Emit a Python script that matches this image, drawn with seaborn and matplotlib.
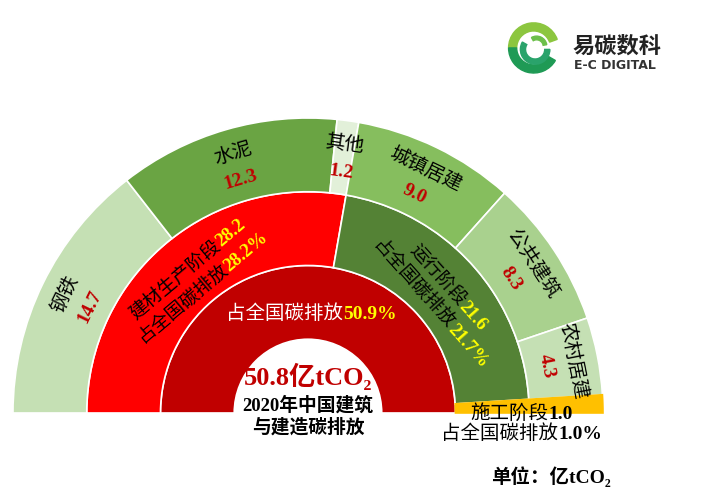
import numpy as np
import matplotlib
matplotlib.use("Agg")
import matplotlib.pyplot as plt
import seaborn as sns
from matplotlib.patches import Wedge

sns.set_theme(style="white")
plt.rcParams["font.family"] = ["Liberation Serif", "Noto Sans CJK SC", "DejaVu Sans"]

# 数据（亿tCO2）
total = 50.8
total_share = 50.9
stage_names = ["建材生产阶段", "运行阶段", "施工阶段"]
stage_values = [28.2, 21.6, 1.0]
stage_shares = [28.2, 21.7, 1.0]
sub_names = ["钢铁", "水泥", "其他", "城镇居建", "公共建筑", "农村居建"]
sub_values = [14.7, 12.3, 1.2, 9.0, 8.3, 4.3]

inner_color = "#c00000"
stage_colors = ["#ff0000", "#548235", "#ffc000"]
sub_colors = ["#c5e0b4", "#6aa443", "#e2f0d9", "#86be5e", "#a9d18e", "#c5e0b4"]

fig = plt.figure(figsize=(7.06, 5.0), dpi=100)
ax = fig.add_axes([0, 0, 1, 1])

wp = dict(width=1, edgecolor="white", linewidth=1.2)
w_in, _ = ax.pie([total, total], radius=2, colors=[inner_color, "white"],
                 startangle=180, counterclock=False, wedgeprops=wp)
w_mid, _ = ax.pie(stage_values + [total], radius=3,
                  colors=stage_colors + ["white"],
                  startangle=180, counterclock=False, wedgeprops=wp)
w_out, _ = ax.pie(sub_values + [stage_values[2], total], radius=4,
                  colors=sub_colors + [stage_colors[2], "white"],
                  startangle=180, counterclock=False, wedgeprops=wp)
for ws in (w_in, w_mid, w_out):
    ws[-1].set_visible(False)
w_mid[2].set_edgecolor(stage_colors[2])
w_out[-2].set_edgecolor(stage_colors[2])

ax.set_xlim(-4.176, 5.397)
ax.set_ylim(-1.18, 5.6)
ax.set_aspect("equal", adjustable="datalim")
ax.axis("off")

renderer = fig.canvas.get_renderer()
ppu = ax.transData.transform((1, 0))[0] - ax.transData.transform((0, 0))[0]


def text_len(s, size, **kw):
    t = ax.text(0, 0, s, fontsize=size, **kw)
    w = t.get_window_extent(renderer).width / ppu
    t.remove()
    return w


def put_line(x, y, rot, parts, size):
    widths = [text_len(s, size, **kw) for s, kw in parts]
    a = np.radians(rot)
    d = np.array([np.cos(a), np.sin(a)])
    down = np.array([np.sin(a), -np.cos(a)])
    base = np.array([x, y]) + down * (0.33 * size * 100 / 72 / ppu)
    pos = -sum(widths) / 2
    for (s, kw), w in zip(parts, widths):
        px, py = base + d * pos
        ax.text(px, py, s, fontsize=size, rotation=rot, rotation_mode="anchor",
                ha="left", va="baseline", **kw)
        pos += w


def mids(values):
    cum = np.concatenate([[0], np.cumsum(values)])
    ang = 180 - cum / total * 180
    return (ang[:-1] + ang[1:]) / 2


def polar(r, deg):
    return r * np.cos(np.radians(deg)), r * np.sin(np.radians(deg))


black = dict(color="black")
num_red = dict(color="#c00000", fontweight="bold")
num_yel = dict(color="#ffff00", fontweight="bold")

# 外圈：分项
for name, v, m in zip(sub_names, sub_values, mids(sub_values)):
    put_line(*polar(3.68, m), m - 90, [(name, black)], 14)
    put_line(*polar(3.32, m), m - 90, [(f"{v:.1f}", num_red)], 14)

# 中圈：阶段
stage_mid = mids(stage_values)
for i in range(2):
    m = stage_mid[i]
    put_line(*polar(2.56, m), m - 90,
             [(stage_names[i], black), (f"{stage_values[i]:.1f}", num_yel)], 13.5)
    put_line(*polar(2.24, m), m - 90,
             [("占全国碳排放", black), (f"{stage_shares[i]:.1f}%", num_yel)], 13.5)

# 施工阶段
put_line(2.9, 0.01, 0,
         [(stage_names[2], black), (f"{stage_values[2]:.1f}", dict(color="black", fontweight="bold"))], 14)
put_line(2.9, -0.27, 0,
         [("占全国碳排放", black), (f"{stage_shares[2]:.1f}%", dict(color="black", fontweight="bold"))], 14)

# 内圈
put_line(0.05, 1.36, 0,
         [("占全国碳排放", dict(color="white")), (f"{total_share:.1f}%", num_yel)], 14)

# 中心
ax.text(0, 0.49, f"{total:.1f}亿tCO₂", fontsize=19, fontweight="bold",
        color="#c00000", ha="center", va="center")
ax.text(0, 0.11, "2020年中国建筑", fontsize=13.5, fontweight="bold",
        color="black", ha="center", va="center")
ax.text(0, -0.2, "与建造碳排放", fontsize=13.5, fontweight="bold",
        color="black", ha="center", va="center")

ax.text(3.3, -0.87, "单位：亿tCO₂", fontsize=14, fontweight="bold",
        color="black", ha="center", va="center")

# 标志
lx, ly = 3.06, 4.95
ax.add_patch(Wedge((lx, ly), 0.34, 20, 180, width=0.11, color="#8cc63f"))
ax.add_patch(Wedge((lx, ly), 0.34, 180, 330, width=0.11, color="#1f9a55"))
ax.add_patch(Wedge((lx + 0.02, ly - 0.02), 0.2, 150, 360, width=0.07, color="#2aa36b"))
ax.add_patch(Wedge((lx + 0.04, ly + 0.02), 0.14, 10, 120, width=0.05, color="#6cbf4a"))
ax.text(4.19, 4.97, "易碳数科", fontsize=16, fontweight="bold", color="#222222",
        ha="center", va="center", family=["Noto Sans CJK SC", "DejaVu Sans"])
ax.text(4.16, 4.71, "E-C DIGITAL", fontsize=9, fontweight="bold", color="#333333",
        ha="center", va="center", family=["DejaVu Sans"])

fig.savefig("out.png", dpi=100)
